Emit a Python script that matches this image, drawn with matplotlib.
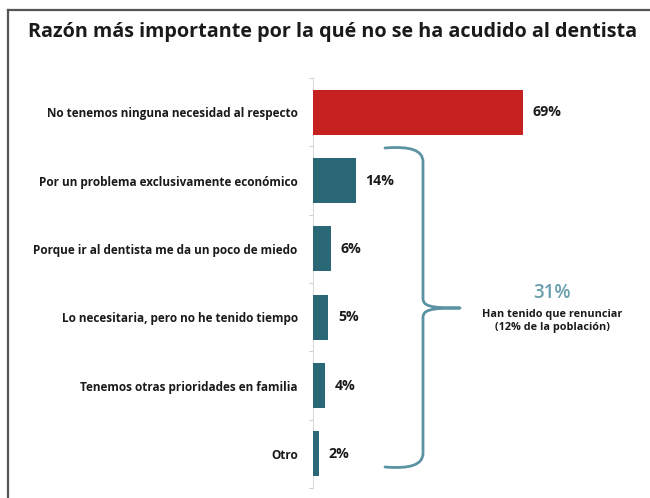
import matplotlib
matplotlib.use("Agg")
import matplotlib.pyplot as plt
from matplotlib.path import Path
from matplotlib.patches import PathPatch
from matplotlib.lines import Line2D

plt.rcParams['font.family'] = ['Open Sans', 'DejaVu Sans']

title = "Razón más importante por la qué no se ha acudido al dentista"
categories = [
    "No tenemos ninguna necesidad al respecto",
    "Por un problema exclusivamente económico",
    "Porque ir al dentista me da un poco de miedo",
    "Lo necesitaria, pero no he tenido tiempo",
    "Tenemos otras prioridades en familia",
    "Otro",
]
values = [69, 14, 6, 5, 4, 2]
bar_colors = ["#c5221f", "#2b6877", "#2b6877", "#2b6877", "#2b6877", "#2b6877"]
brace_total = "31%"
brace_note = "Han tenido que renunciar\n(12% de la población)"

W, H = 650, 498
fig = plt.figure(figsize=(W / 100, H / 100), dpi=100)
fig.patch.set_facecolor("white")

# main bar axes, placed in pixel terms
ax_left, ax_right = 313, 650
ax_top, ax_bottom = 78, 488
ax = fig.add_axes([ax_left / W, 1 - ax_bottom / H,
                   (ax_right - ax_left) / W, (ax_bottom - ax_top) / H])
px_per_unit = 3.04
ax.set_xlim(0, (ax_right - ax_left) / px_per_unit)
ax.set_ylim(len(values) - 0.5, -0.5)

ypos = list(range(len(values)))
ax.barh(ypos, values, height=0.66, color=bar_colors, zorder=3)
for y, v in zip(ypos, values):
    ax.annotate(f"{v}%", (v, y), xytext=(7, 0), textcoords="offset points",
                va="center", ha="left", fontsize=10.2, fontweight="bold",
                color="#1a1a1a")

ax.set_yticks(ypos)
ax.set_yticklabels(categories, fontsize=8.5, fontweight="bold", color="#1a1a1a")
ax.tick_params(axis="y", which="major", length=0, pad=11)
ax.set_yticks([i - 0.5 for i in range(len(values) + 1)], minor=True)
ax.tick_params(axis="y", which="minor", length=3, color="#d0d0d0", width=0.8)
ax.set_xticks([])
for s in ("top", "right", "bottom"):
    ax.spines[s].set_visible(False)
ax.spines["left"].set_color("#dcdcdc")
ax.spines["left"].set_linewidth(0.8)
ax.set_facecolor("none")

# overlay in pixel coordinates for frame, title, and brace
ov = fig.add_axes([0, 0, 1, 1], zorder=5)
ov.set_xlim(0, W)
ov.set_ylim(H, 0)
ov.axis("off")
ov.patch.set_alpha(0)

ov.add_line(Line2D([7.5, W], [9.5, 9.5], color="#555555", lw=1.6))
ov.add_line(Line2D([7.5, 7.5], [9.5, H], color="#555555", lw=1.6))

ov.text(333, 32, title, ha="center", va="center", fontsize=14.2,
        fontweight="bold", color="#1a1a1a")

brace_color = "#5b93a3"
x0, xv, xt = 385, 423, 460
yt, ym, yb = 148, 308, 467
verts = [
    (x0, yt), (410, yt - 2), (xv, yt + 2), (xv, yt + 14),
    (xv, ym - 10),
    (xv, ym - 2), (xv + 6, ym), (xt, ym),
    (xv + 6, ym), (xv, ym + 2), (xv, ym + 10),
    (xv, yb - 14),
    (xv, yb - 2), (410, yb + 2), (x0, yb),
]
codes = [Path.MOVETO, Path.CURVE4, Path.CURVE4, Path.CURVE4,
         Path.LINETO,
         Path.CURVE4, Path.CURVE4, Path.CURVE4,
         Path.CURVE4, Path.CURVE4, Path.CURVE4,
         Path.LINETO,
         Path.CURVE4, Path.CURVE4, Path.CURVE4]
ov.add_patch(PathPatch(Path(verts, codes), fill=False, edgecolor=brace_color,
                       lw=2.0, capstyle="round", joinstyle="round"))

ov.text(552, 293, brace_total, ha="center", va="center", fontsize=13.5,
        fontweight="semibold", color="#6a9fae")
ov.text(552, 321, brace_note, ha="center", va="center", fontsize=7.8,
        fontweight="bold", color="#1a1a1a", linespacing=1.15)

fig.savefig("out.png", dpi=100, facecolor="white")
